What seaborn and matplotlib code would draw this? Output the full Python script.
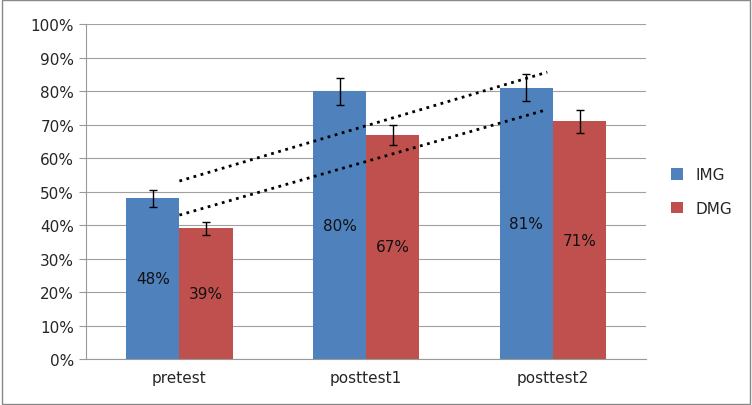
import numpy as np
import pandas as pd
import matplotlib
matplotlib.use("Agg")
import matplotlib.pyplot as plt
import seaborn as sns
from matplotlib.patches import Rectangle

tests = ["pretest", "posttest1", "posttest2"]
groups = ["IMG", "DMG"]
img_vals = [48, 80, 81]
dmg_vals = [39, 67, 71]
img_err = [2.5, 4, 4]
dmg_err = [2, 3, 3.5]
colors = ["#4F81BD", "#C0504D"]

df = pd.DataFrame({
    "test": tests * 2,
    "group": ["IMG"] * 3 + ["DMG"] * 3,
    "value": img_vals + dmg_vals,
})

sns.set_style("white")
fig = plt.figure(figsize=(7.52, 4.06), dpi=100)
ax = fig.add_axes([0.1144, 0.113, 0.745, 0.825])
sns.barplot(data=df, x="test", y="value", hue="group", palette=colors,
            width=0.57, saturation=1, linewidth=0, ax=ax, zorder=2)

errs = img_err + dmg_err
for patch, v, e in zip(ax.patches, df["value"], errs):
    cx = patch.get_x() + patch.get_width() / 2
    ax.errorbar(cx, v, yerr=e, color="black", capsize=3, lw=1, zorder=3)
    ax.text(cx, v / 2, f"{v}%", ha="center", va="center", fontsize=11,
            color="#111111", zorder=4)

xs = np.arange(3)
for vals in (img_vals, dmg_vals):
    k, b = np.polyfit(xs, vals, 1)
    ax.plot([0, 1.97], [b, k * 1.97 + b], ls=":", color="black", lw=2, zorder=5)

ax.set_ylim(0, 100)
ax.set_xlim(-0.5, 2.5)
ax.set_yticks(range(0, 101, 10))
ax.set_yticklabels([f"{t}%" for t in range(0, 101, 10)], fontsize=11)
ax.tick_params(axis="x", labelsize=11, length=0, pad=8)
ax.tick_params(axis="y", length=5, color="#999999", direction="out", left=True)
ax.set_xlabel("")
ax.set_ylabel("")
ax.yaxis.grid(True, color="#A0A0A0", lw=0.8)
ax.set_axisbelow(True)
for s in ["top", "right"]:
    ax.spines[s].set_visible(False)
for s in ["left", "bottom"]:
    ax.spines[s].set_color("#999999")

h, l = ax.get_legend_handles_labels()
ax.legend(h, l, loc="center left", bbox_to_anchor=(1.02, 0.5), frameon=False,
          fontsize=11, handlelength=0.8, handleheight=0.8, labelspacing=1.2)

fig.patches.append(Rectangle((0.002, 0.003), 0.996, 0.994, transform=fig.transFigure,
                             fill=False, edgecolor="#888888", lw=1))
fig.savefig("out.png", dpi=100)
